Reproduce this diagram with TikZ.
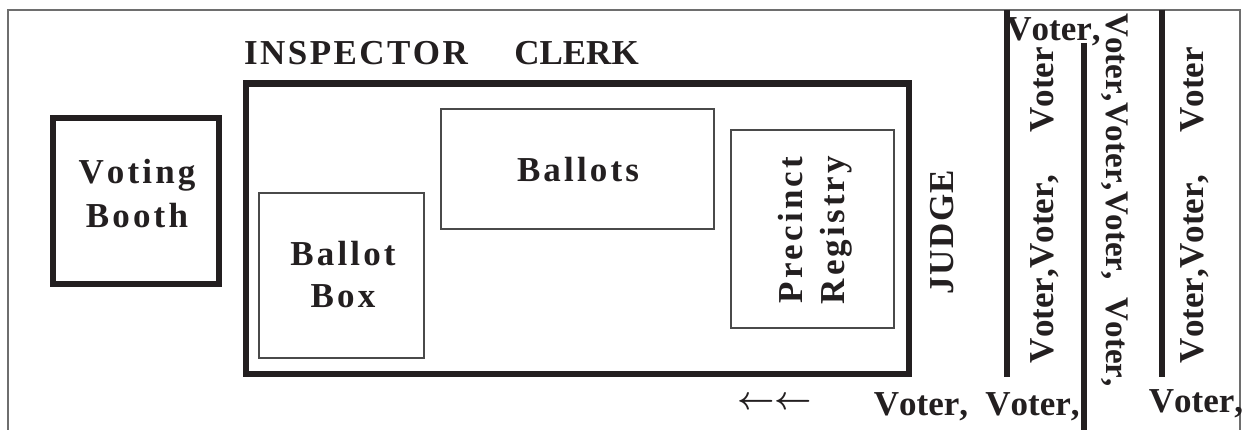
\RequirePackage{fix-cm}
\documentclass[tikz,border=0pt]{standalone}
\usepackage{fontspec}
\setmainfont{Liberation Serif}[Kerning=Off]
\newfontfamily\spcfont[LetterSpace=9,Kerning=Off]{Liberation Serif}
\newfontfamily\spifont[LetterSpace=7,Kerning=Off]{Liberation Serif}
\newfontfamily\jfont[LetterSpace=4,Kerning=Off]{Liberation Serif}
\definecolor{ink}{HTML}{231F20}
\definecolor{thin}{HTML}{4A4A4A}
\definecolor{framec}{HTML}{6E6E6E}
\begin{document}
\begin{tikzpicture}[x=1pt,y=-1pt,
  plain/.style={font=\fontsize{35}{40}\selectfont\bfseries, text=ink, inner sep=0pt, anchor=base},
  spaced/.style={font=\spcfont\fontsize{35}{40}\selectfont\bfseries, text=ink, inner sep=0pt, anchor=base},
  spacedi/.style={font=\spifont\fontsize{35}{40}\selectfont\bfseries, text=ink, inner sep=0pt, anchor=base},
  spacedj/.style={font=\jfont\fontsize{35}{40}\selectfont\bfseries, text=ink, inner sep=0pt, anchor=base},
  heavybox/.style={draw=ink, line width=6.5pt, inner sep=0pt},
  thinbox/.style={draw=thin, line width=1.3pt, inner sep=0pt},
  bar/.style={draw=ink, line width=6pt},
  frameline/.style={draw=framec, line width=1.6pt}]
\useasboundingbox (0,0) rectangle (1243,430);
% outer frame
\draw[frameline] (8,430) -- (8,10) -- (1240,10) -- (1240,430);
% boxes
\node[heavybox, minimum width=166pt, minimum height=166pt] (booth) at (136,201) {};
\node[heavybox, minimum width=663pt, minimum height=290.5pt] (table) at (577.5,228.75) {};
\node[thinbox, minimum width=165pt, minimum height=165pt] (bbox) at (341.5,275.5) {};
\node[thinbox, minimum width=273pt, minimum height=120pt] (ballots) at (577.5,169) {};
\node[thinbox, minimum width=163pt, minimum height=198pt] (registry) at (812.5,229) {};
% labels
\node[spaced] (voting) at (137,184) {Voting};
\node[spaced] (booth2) at (137,228) {Booth};
\node[spaced] (ballot) at (343,266) {Ballot};
\node[spaced] (box) at (343,308) {Box};
\node[spaced] (ballotst) at (578,182) {Ballots};
\node[spacedi] (inspector) at (356,65) {INSPECTOR};
\node[plain] (clerk) at (576.5,65) {CLERK};
\node[spaced, rotate=90] (precinct) at (802,230) {Precinct};
\node[spaced, rotate=90] (registry2) at (844,230) {Registry};
\node[spacedj, rotate=90] (judge) at (953,232) {JUDGE};
% voter lines
\node[plain] (vtop) at (1053.5,41) {Voter,};
\node[plain, rotate=90] (colA) at (1053,205) {Voter,Voter,\hspace{42pt}Voter};
\node[plain, rotate=-90, font=\fontsize{33}{38}\selectfont\bfseries] (colB) at (1106,200) {Voter,Voter,Voter,\hspace{18pt}Voter,};
\node[plain, rotate=90] (colC) at (1203,205) {Voter,Voter,\hspace{42pt}Voter};
\node[plain] (vb1) at (921,415) {Voter,};
\node[plain] (vb2) at (1032.5,415) {Voter,};
\node[plain] (vb3) at (1196,413) {Voter,};
\node[font=\fontsize{32.5}{36}\selectfont\boldmath, text=ink, inner sep=0pt] (arrows) at (774.5,403) {$\leftarrow\leftarrow$};
% queue dividers
\coordinate (l1a) at (1007,10);  \coordinate (l1b) at (1007,377);
\coordinate (l2a) at (1084,43);  \coordinate (l2b) at (1084,430);
\coordinate (l3a) at (1162,10);  \coordinate (l3b) at (1162,377);
\draw[bar] (l1a) -- (l1b);
\draw[bar] (l2a) -- (l2b);
\draw[bar] (l3a) -- (l3b);
\end{tikzpicture}
\end{document}
